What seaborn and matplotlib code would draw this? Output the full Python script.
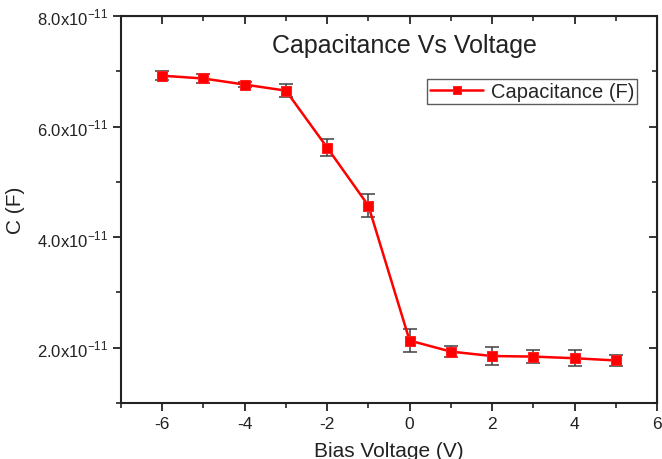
import numpy as np
import pandas as pd
import matplotlib
matplotlib.use("Agg")
import matplotlib.pyplot as plt
import seaborn as sns

# data
voltage = [-6, -5, -4, -3, -2, -1, 0, 1, 2, 3, 4, 5]
capacitance = [6.92e-11, 6.87e-11, 6.76e-11, 6.65e-11, 5.62e-11, 4.57e-11,
               2.13e-11, 1.93e-11, 1.85e-11, 1.84e-11, 1.81e-11, 1.77e-11]
cap_err = [0.08e-11, 0.09e-11, 0.05e-11, 0.12e-11, 0.16e-11, 0.21e-11,
           0.20e-11, 0.10e-11, 0.16e-11, 0.11e-11, 0.14e-11, 0.10e-11]

y_ticks = [2e-11, 4e-11, 6e-11, 8e-11]
y_tick_labels = ["2.0x10$^{\\mathregular{-11}}$", "4.0x10$^{\\mathregular{-11}}$",
                 "6.0x10$^{\\mathregular{-11}}$", "8.0x10$^{\\mathregular{-11}}$"]
x_ticks = [-6, -4, -2, 0, 2, 4, 6]

df = pd.DataFrame({"Bias Voltage (V)": voltage, "C (F)": capacitance})

sns.set_style("ticks")
plt.rcParams["font.family"] = ["Liberation Sans", "DejaVu Sans"]
plt.rcParams["axes.unicode_minus"] = False

fig = plt.figure(figsize=(6.62, 4.60), dpi=100)
ax = fig.add_axes([0.1828, 0.1217, 0.8096, 0.8413])

# error bars under the markers, like the reference
ax.errorbar(voltage, capacitance, yerr=cap_err, fmt="none",
            ecolor="#404040", elinewidth=1.1, capsize=5, capthick=1.1, zorder=2)
sns.lineplot(data=df, x="Bias Voltage (V)", y="C (F)", ax=ax,
             color="red", linewidth=1.8, marker="s", markersize=7,
             markeredgecolor="#ff2020", markerfacecolor="red",
             label="Capacitance (F)", zorder=3)

ax.set_xlim(-7, 6)
ax.set_ylim(1e-11, 8e-11)
ax.set_xticks(x_ticks)
ax.set_xticks(range(-7, 7, 2), minor=True)
ax.set_yticks(y_ticks)
ax.set_yticklabels(y_tick_labels)
ax.set_yticks([1e-11, 3e-11, 5e-11, 7e-11], minor=True)

for s in ax.spines.values():
    s.set_visible(True)
    s.set_linewidth(1.5)
    s.set_color("#222222")

ax.tick_params(which="major", direction="out", length=6, width=1.3,
               labelsize=12, colors="#222222")
ax.tick_params(which="minor", direction="out", length=3.5, width=1.2, colors="#222222")
ax.tick_params(axis="x", labelsize=12.5)

# inward ticks on top and right
top = ax.secondary_xaxis("top")
top.set_xticks(x_ticks)
top.set_xticks(range(-7, 7, 2), minor=True)
top.tick_params(which="major", direction="in", length=6, width=1.3, labeltop=False)
top.tick_params(which="minor", direction="in", length=3.5, width=1.2)
right = ax.secondary_yaxis("right")
right.set_yticks(y_ticks)
right.set_yticks([1e-11, 3e-11, 5e-11, 7e-11], minor=True)
right.tick_params(which="major", direction="in", length=6, width=1.3, labelright=False)
right.tick_params(which="minor", direction="in", length=3.5, width=1.2)

ax.set_xlabel("Bias Voltage (V)", fontsize=15, color="#222222", labelpad=7)
ax.set_ylabel("C (F)", fontsize=15, color="#222222", labelpad=8)
ax.text(0.528, 0.925, "Capacitance Vs Voltage", transform=ax.transAxes,
        ha="center", va="center", fontsize=18, color="#222222")

leg = ax.legend(loc="upper right", bbox_to_anchor=(0.963, 0.838), fontsize=14.5,
                frameon=True, fancybox=False, handlelength=2.6,
                borderpad=0.15, handletextpad=0.4, borderaxespad=0)
leg.get_frame().set_edgecolor("#333333")
leg.get_frame().set_linewidth(1.0)
for h in leg.legend_handles:
    h.set_markersize(6)

fig.savefig("out.png", dpi=100)
